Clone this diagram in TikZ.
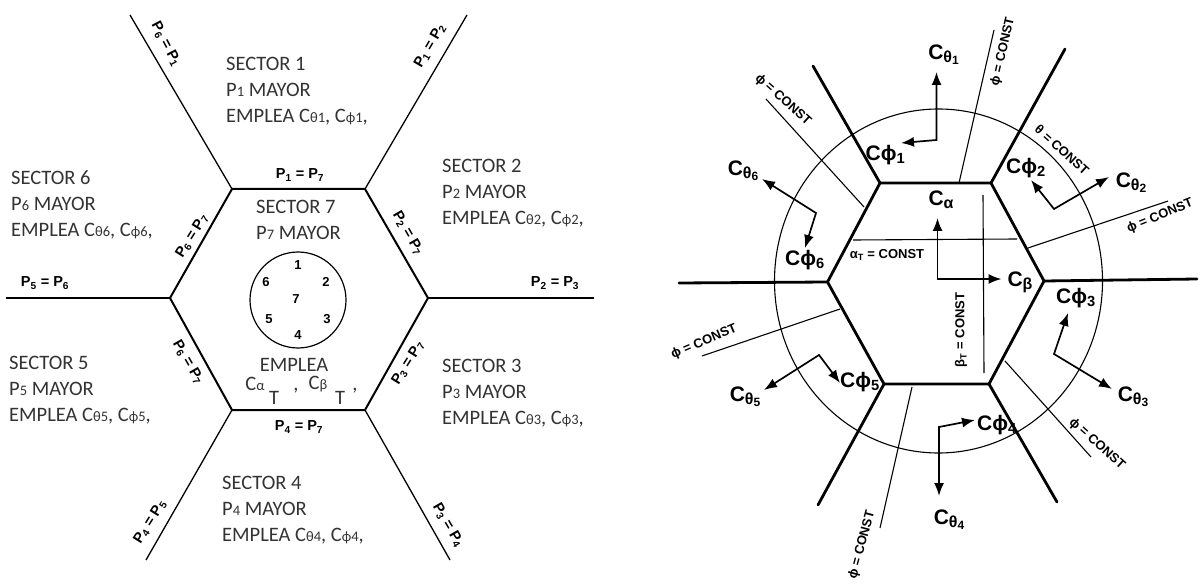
\documentclass[tikz,border=0pt]{standalone}
\usepackage{xcolor}
\usepackage{fontspec}
\usepackage{tikz}
\usetikzlibrary{arrows.meta}
\newfontfamily\sectorfont{Carlito}
\newfontfamily\handfont{Liberation Sans}
\newcommand{\sm}[1]{{\fontsize{14.5}{14.5}\selectfont #1}}
\newcommand{\coefsub}[2]{\raisebox{-3pt}{\fontsize{16}{16}\selectfont #1\raisebox{-2pt}{\fontsize{12}{12}\selectfont #2}}}
\definecolor{inkgray}{HTML}{333333}

\begin{document}
\begin{tikzpicture}[
    x=1pt, y=-1pt,
    sector/.style={
        align=left,
        anchor=west,
        inner sep=0pt,
        text=inkgray,
        font=\sectorfont\fontsize{20.5}{25.8}\selectfont
    },
    edgelabel/.style={
        inner sep=0pt,
        font=\handfont\bfseries\fontsize{14.5}{14.5}\selectfont
    },
    digit/.style={inner sep=0pt, font=\handfont\bfseries\fontsize{13}{13}\selectfont},
    constlabel/.style={inner sep=0pt, font=\handfont\bfseries\fontsize{13}{13}\selectfont},
    coeff/.style={inner sep=0pt, font=\handfont\bfseries\fontsize{21}{21}\selectfont},
    wallleft/.style={line width=1.3pt},
    hexleft/.style={line width=2pt},
    wall/.style={line width=2.8pt, line cap=round},
    thinline/.style={line width=1.1pt},
    arrow/.style={{Latex[length=13pt,width=10pt]}-{Latex[length=13pt,width=10pt]}, line width=1.7pt}
]
\useasboundingbox (0,0) rectangle (1199,585);

% left hexagon
\coordinate (ltl) at (232,189);
\coordinate (ltr) at (365,189);
\coordinate (lr) at (428,298);
\coordinate (lbr) at (365,410);
\coordinate (lbl) at (232,410);
\coordinate (ll) at (170,298);
\coordinate (ltlend) at (130,15);
\coordinate (ltrend) at (467,15);
\coordinate (lrend) at (594,298);
\coordinate (lbrend) at (450,560);
\coordinate (lblend) at (146,560);
\coordinate (llend) at (6,298);

\draw[hexleft] (ltl) -- (ltr) -- (lr) -- (lbr) -- (lbl) -- (ll) -- cycle;
\draw[wallleft] (ltl) -- (ltlend);
\draw[wallleft] (ltr) -- (ltrend);
\draw[wallleft] (lr) -- (lrend);
\draw[wallleft] (lbr) -- (lbrend);
\draw[wallleft] (lbl) -- (lblend);
\draw[wallleft] (ll) -- (llend);

\node[sector] (sec1) at (226,91) {SECTOR 1\\P\sm{1} MAYOR\\EMPLEA C\sm{θ1}, C\sm{ϕ1},};
\node[sector] (sec2) at (442,193) {SECTOR 2\\P\sm{2} MAYOR\\EMPLEA C\sm{θ2}, C\sm{ϕ2},};
\node[sector] (sec3) at (442,393) {SECTOR 3\\P\sm{3} MAYOR\\EMPLEA C\sm{θ3}, C\sm{ϕ3},};
\node[sector] (sec4) at (222,510) {SECTOR 4\\P\sm{4} MAYOR\\EMPLEA C\sm{θ4}, C\sm{ϕ4},};
\node[sector] (sec5) at (9,390) {SECTOR 5\\P\sm{5} MAYOR\\EMPLEA C\sm{θ5}, C\sm{ϕ5},};
\node[sector] (sec6) at (11,205) {SECTOR 6\\P\sm{6} MAYOR\\EMPLEA C\sm{θ6}, C\sm{ϕ6},};
\node[sector] (sec7) at (256,220) {SECTOR 7\\P\sm{7} MAYOR};

\node[sector, anchor=center] (emplea) at (294,365) {EMPLEA};
\node[sector, anchor=center] (calpha) at (255,384) {C\sm{α}};
\node[sector, anchor=center] (talpha) at (274,398) {T};
\node[sector, anchor=center] (comma1) at (296,391) {,};
\node[sector, anchor=center] (cbeta) at (318,384) {C\sm{β}};
\node[sector, anchor=center] (tbeta) at (340,398) {T};
\node[sector, anchor=center] (comma2) at (355,391) {,};

\draw[line width=1.2pt] (298,300) circle (48);
\node[digit] (d1) at (298,265) {1};
\node[digit] (d2) at (326,282) {2};
\node[digit] (d3) at (327,319) {3};
\node[digit] (d4) at (298,335) {4};
\node[digit] (d5) at (269,319) {5};
\node[digit] (d6) at (266,282) {6};
\node[digit] (d7) at (296,299) {7};

\node[edgelabel] (p17) at (300,175) {P\textsubscript{1} = P\textsubscript{7}};
\node[edgelabel] (p47) at (299,427) {P\textsubscript{4} = P\textsubscript{7}};
\node[edgelabel] (p23) at (555,283) {P\textsubscript{2} = P\textsubscript{3}};
\node[edgelabel] (p56) at (45,283) {P\textsubscript{5} = P\textsubscript{6}};
\node[edgelabel, rotate=-62] (p61) at (166,44) {P\textsubscript{6} = P\textsubscript{1}};
\node[edgelabel, rotate=60] (p12) at (430,46) {P\textsubscript{1} = P\textsubscript{2}};
\node[edgelabel, rotate=-60] (p27) at (408,233) {P\textsubscript{2} = P\textsubscript{7}};
\node[edgelabel, rotate=58] (p67a) at (192,236) {P\textsubscript{6} = P\textsubscript{7}};
\node[edgelabel, rotate=-60] (p67b) at (188,362) {P\textsubscript{6} = P\textsubscript{7}};
\node[edgelabel, rotate=58] (p37) at (408,363) {P\textsubscript{3} = P\textsubscript{7}};
\node[edgelabel, rotate=58] (p45) at (150,522) {P\textsubscript{4} = P\textsubscript{5}};
\node[edgelabel, rotate=-60] (p34) at (448,525) {P\textsubscript{3} = P\textsubscript{4}};

% right hexagon
\coordinate (rtl) at (880,183);
\coordinate (rtr) at (991,183);
\coordinate (rr) at (1044,281);
\coordinate (rbr) at (989,384);
\coordinate (rbl) at (884,384);
\coordinate (rl) at (827.5,282);
\coordinate (rtlend) at (813,66);
\coordinate (rtrend) at (1065,49);
\coordinate (rrend) at (1197,279);
\coordinate (rbrend) at (1057,502);
\coordinate (rblend) at (818,505);
\coordinate (rlend) at (679,283);

\draw[wall] (rtl) -- (rtr) -- (rr) -- (rbr) -- (rbl) -- (rl) -- cycle;
\draw[wall] (rtl) -- (rtlend);
\draw[wall] (rtr) -- (rtrend);
\draw[wall] (rr) -- (rrend);
\draw[wall] (rbr) -- (rbrend);
\draw[wall] (rbl) -- (rblend);
\draw[wall] (rl) -- (rlend);

\draw[thinline] (938.5,281) ellipse [x radius=164, y radius=172];

\draw[thinline] (959,183) -- (994,30);
\draw[thinline] (864,207) -- (766,99);
\draw[thinline] (853,240) -- (1017,239);
\draw[thinline] (983,195) -- (984,373);
\draw[thinline] (1028,248) -- (1168,201);
\draw[thinline] (840,309) -- (702,356);
\draw[thinline] (1005,361) -- (1091,457);
\draw[thinline] (912,387) -- (880,528);

\node[constlabel, rotate=77] (phi1) at (1003,52) {ϕ = CONST};
\node[constlabel, rotate=-42] (phi2) at (783,100) {ϕ = CONST};
\node[constlabel, rotate=-42] (theta1) at (1062,150) {θ = CONST};
\node[constlabel, rotate=22] (phi3) at (1160,216) {ϕ = CONST};
\node[constlabel, rotate=23] (phi4) at (704,342) {ϕ = CONST};
\node[constlabel, rotate=-42] (phi5) at (1097,444) {ϕ = CONST};
\node[constlabel, rotate=75] (phi6) at (862,545) {ϕ = CONST};
\node[constlabel] (alphat) at (887,255) {α\textsubscript{T} = CONST};
\node[constlabel, rotate=90] (betat) at (961,330) {β\textsubscript{T} = CONST};

\coordinate (c1) at (936.5,140);
\coordinate (c1a) at (936.5,72);
\coordinate (c1b) at (901,143);
\coordinate (c2) at (1054,209);
\coordinate (c2a) at (1109,177);
\coordinate (c2b) at (1031,180);
\coordinate (c3) at (1054,354);
\coordinate (c3a) at (1112,389);
\coordinate (c3b) at (1068,313);
\coordinate (c4) at (939,427);
\coordinate (c4a) at (939,496);
\coordinate (c4b) at (975,420);
\coordinate (c5) at (819,355);
\coordinate (c5a) at (764,390);
\coordinate (c5b) at (840,383);
\coordinate (c6) at (816,213);
\coordinate (c6a) at (762,179);
\coordinate (c6b) at (805,248);
\coordinate (c7) at (937.5,279);
\coordinate (c7a) at (937.5,218);
\coordinate (c7b) at (1001.5,279);

\draw[arrow] (c1a) -- (c1) -- (c1b);
\draw[arrow] (c2a) -- (c2) -- (c2b);
\draw[arrow] (c3a) -- (c3) -- (c3b);
\draw[arrow] (c4a) -- (c4) -- (c4b);
\draw[arrow] (c5a) -- (c5) -- (c5b);
\draw[arrow] (c6a) -- (c6) -- (c6b);
\draw[arrow] (c7a) -- (c7) -- (c7b);

\node[coeff] (cth1) at (943.5,55) {C\coefsub{θ}{1}};
\node[coeff] (cth2) at (1131,183) {C\coefsub{θ}{2}};
\node[coeff] (cth3) at (1133,397) {C\coefsub{θ}{3}};
\node[coeff] (cth4) at (949,520) {C\coefsub{θ}{4}};
\node[coeff] (cth5) at (745,397) {C\coefsub{θ}{5}};
\node[coeff] (cth6) at (743,171) {C\coefsub{θ}{6}};
\node[coeff] (cph1) at (885.5,155) {Cϕ\textsubscript{1}};
\node[coeff] (cph2) at (1026,168) {Cϕ\textsubscript{2}};
\node[coeff] (cph3) at (1076,298) {Cϕ\textsubscript{3}};
\node[coeff] (cph4) at (997,425) {Cϕ\textsubscript{4}};
\node[coeff] (cph5) at (860,382) {Cϕ\textsubscript{5}};
\node[coeff] (cph6) at (805,260) {Cϕ\textsubscript{6}};
\node[coeff] (calf) at (941,201) {C\coefsub{α}{}};
\node[coeff] (cbet) at (1020,282) {C\coefsub{β}{}};

\end{tikzpicture}
\end{document}
